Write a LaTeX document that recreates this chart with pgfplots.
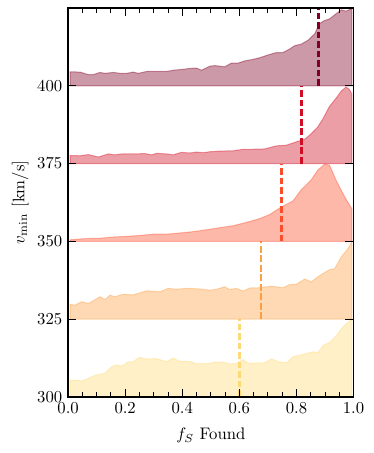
\documentclass[border=0pt]{standalone}
\usepackage{pgfplots}
\pgfplotsset{compat=1.18}
\usepackage{pgfplotstable}

% YlOrRd samples
\definecolor{cA}{RGB}{128,0,38}
\definecolor{cB}{RGB}{208,13,34}
\definecolor{cC}{RGB}{252,78,42}
\definecolor{cD}{RGB}{253,160,68}
\definecolor{cE}{RGB}{254,217,118}

\pgfplotstableread{
x v
0.007 400
0.007 404.5
0.042 404.4
0.071 403.6
0.089 403.6
0.112 404.3
0.129 404.0
0.159 404.3
0.182 404.0
0.205 404.0
0.228 404.4
0.246 404.0
0.275 404.6
0.310 404.6
0.345 404.6
0.368 405.0
0.403 405.3
0.427 405.6
0.450 405.7
0.467 405.0
0.497 406.3
0.514 406.5
0.549 406.1
0.572 407.3
0.596 407.3
0.619 408.0
0.648 408.5
0.671 409.0
0.700 409.9
0.730 410.7
0.753 410.7
0.776 411.8
0.794 412.9
0.817 413.4
0.840 414.6
0.864 416.7
0.881 420.0
0.899 421.0
0.916 421.5
0.934 422.8
0.957 424.4
0.974 424.0
0.994 424.8
0.994 400
}\tA

\pgfplotstableread{
x v
0.007 375
0.007 377.6
0.042 377.5
0.071 377.9
0.106 377.1
0.141 378.1
0.164 377.8
0.188 378.1
0.228 378.1
0.269 378.2
0.293 377.8
0.310 378.3
0.345 378.1
0.368 377.8
0.397 378.6
0.427 378.4
0.450 378.7
0.473 378.5
0.497 378.8
0.531 379.0
0.578 379.1
0.613 379.6
0.648 379.6
0.689 379.7
0.730 380.7
0.765 380.9
0.800 382.0
0.829 382.8
0.852 384.6
0.875 386.8
0.893 389.4
0.916 393.4
0.939 396.0
0.957 398.3
0.974 399.6
0.986 398.8
0.994 397.4
0.994 375
}\tB

\pgfplotstableread{
x v
0.007 350
0.007 350.5
0.065 350.9
0.112 351.0
0.159 351.4
0.205 351.6
0.252 351.9
0.298 352.3
0.345 352.3
0.392 352.7
0.427 353.0
0.462 353.4
0.497 353.9
0.531 354.4
0.578 355.0
0.625 356.1
0.671 357.3
0.706 358.6
0.741 360.7
0.788 363.0
0.817 366.6
0.852 369.8
0.875 372.9
0.899 374.8
0.916 374.5
0.939 369.6
0.969 364.3
0.994 360.5
0.994 350
}\tC

\pgfplotstableread{
x v
0.007 325
0.007 329.8
0.024 329.5
0.048 330.6
0.071 330.0
0.112 332.2
0.129 331.3
0.147 332.7
0.164 332.2
0.193 333.0
0.228 332.8
0.275 334.1
0.322 333.8
0.351 334.9
0.380 334.6
0.415 334.9
0.462 334.7
0.497 334.3
0.520 334.6
0.549 335.4
0.566 334.5
0.590 334.9
0.613 334.0
0.636 335.0
0.671 335.1
0.712 335.6
0.753 335.1
0.776 336.1
0.800 336.2
0.829 337.9
0.852 337.0
0.881 339.0
0.916 340.9
0.934 341.2
0.957 345.0
0.980 347.6
0.994 349.8
0.994 325
}\tD

\pgfplotstableread{
x v
0.007 300
0.007 305.4
0.030 305.4
0.048 305.1
0.094 306.9
0.129 307.6
0.153 309.7
0.170 310.3
0.188 309.9
0.211 311.3
0.228 311.3
0.249 312.7
0.275 312.2
0.310 312.3
0.345 311.3
0.368 312.5
0.392 311.4
0.427 311.4
0.450 310.7
0.491 310.7
0.514 311.2
0.543 311.2
0.566 310.6
0.590 310.8
0.613 312.0
0.631 310.9
0.665 310.9
0.689 311.0
0.712 312.2
0.741 311.2
0.765 311.0
0.788 312.9
0.829 313.8
0.858 314.5
0.875 314.2
0.893 316.5
0.916 317.5
0.939 319.6
0.963 322.5
0.994 325.0
0.994 300
}\tE

\begin{document}
\begin{tikzpicture}
\begin{axis}[
    scale only axis,
    width=171pt, height=233pt,
    xmin=0, xmax=1,
    ymin=300, ymax=425,
    xtick={0,0.2,0.4,0.6,0.8,1},
    minor x tick num=3,
    ytick={300,325,350,375,400},
    xticklabel style={/pgf/number format/.cd,fixed,fixed zerofill,precision=1},
    tick align=inside,
    major tick length=5pt,
    minor tick length=3pt,
    tick style={black, line width=0.5pt},
    axis line style={line width=0.8pt},
    axis on top,
    xlabel={$f_S$ Found},
    ylabel={$v_{\rm min}$ [km/s]},
    xlabel style={at={(axis description cs:0.5,-0.1)}, anchor=center},
    ylabel style={at={(axis description cs:-0.168,0.5)}, anchor=center},
    ridge/.style={fill=#1, draw=#1, opacity=0.4, line width=0.6pt},
    vline/.style={#1, line width=1.5pt, dash pattern=on 4pt off 1.7pt},
]
\addplot[ridge=cE] table[x=x,y=v] {\tE} -- cycle;
\addplot[vline=cE] coordinates {(0.601,300) (0.601,325)};
\addplot[ridge=cD] table[x=x,y=v] {\tD} -- cycle;
\addplot[vline=cD] coordinates {(0.675,325) (0.675,350)};
\addplot[ridge=cC] table[x=x,y=v] {\tC} -- cycle;
\addplot[vline=cC] coordinates {(0.748,350) (0.748,375)};
\addplot[ridge=cB] table[x=x,y=v] {\tB} -- cycle;
\addplot[vline=cB] coordinates {(0.817,375) (0.817,400)};
\addplot[ridge=cA] table[x=x,y=v] {\tA} -- cycle;
\addplot[vline=cA] coordinates {(0.878,400) (0.878,425)};
\end{axis}
\pgfresetboundingbox
\useasboundingbox ([shift={(-40.8pt,-33.6pt)}]current axis.south west) rectangle ([shift={(12pt,4.8pt)}]current axis.north east);
\end{tikzpicture}
\end{document}
